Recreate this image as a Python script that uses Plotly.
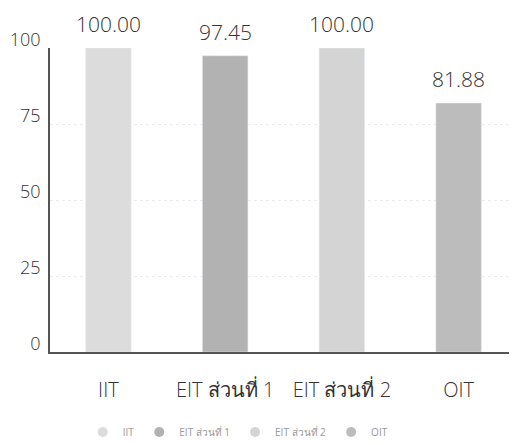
import plotly.graph_objects as go

categories = ["IIT", "EIT ส่วนที่ 1", "EIT ส่วนที่ 2", "OIT"]
values = [100.00, 97.45, 100.00, 81.88]
colors = ["#dcdcdc", "#b2b2b2", "#d4d4d4", "#bcbcbc"]
y_ticks = [0, 25, 50, 75, 100]

FONT = "Open Sans, Noto Sans, sans-serif"

fig = go.Figure()
for cat, val, col in zip(categories, values, colors):
    fig.add_trace(go.Bar(x=[cat], y=[val], marker_color=col, width=0.39,
                         showlegend=False, hoverinfo="skip"))
    fig.add_trace(go.Scatter(x=[None], y=[None], mode="markers", name=cat,
                             marker=dict(symbol="circle", size=10, color=col)))
    fig.add_annotation(x=cat, y=val, text=f"{val:.2f}", showarrow=False,
                       yanchor="bottom", yshift=8,
                       font=dict(family=FONT, size=21, color="#333", weight=300))

fig.update_layout(
    width=517, height=445,
    margin=dict(l=42, r=8, t=40, b=101, autoexpand=False),
    barmode="overlay",
    plot_bgcolor="white", paper_bgcolor="white",
    font=dict(family=FONT, color="#333", weight=300),
    legend=dict(orientation="h", x=0.07, xanchor="left", y=-0.263, yanchor="middle",
                font=dict(size=10, color="#999", weight=400), itemwidth=30),
)
fig.update_yaxes(range=[0, 100], tickvals=y_ticks, showline=True, linecolor="#555",
                 linewidth=1.5, showgrid=True, gridcolor="#ececec", griddash="dot",
                 zeroline=False, tickfont=dict(size=18, color="#333", weight=300),
                 ticklabelshift=-8, ticklabelstandoff=4, automargin=False)
fig.update_xaxes(showline=True, linecolor="#555", linewidth=1.5, automargin=False,
                 tickfont=dict(size=20, color="#333", weight=300), ticklabelstandoff=19)

fig.write_html("out.html")
